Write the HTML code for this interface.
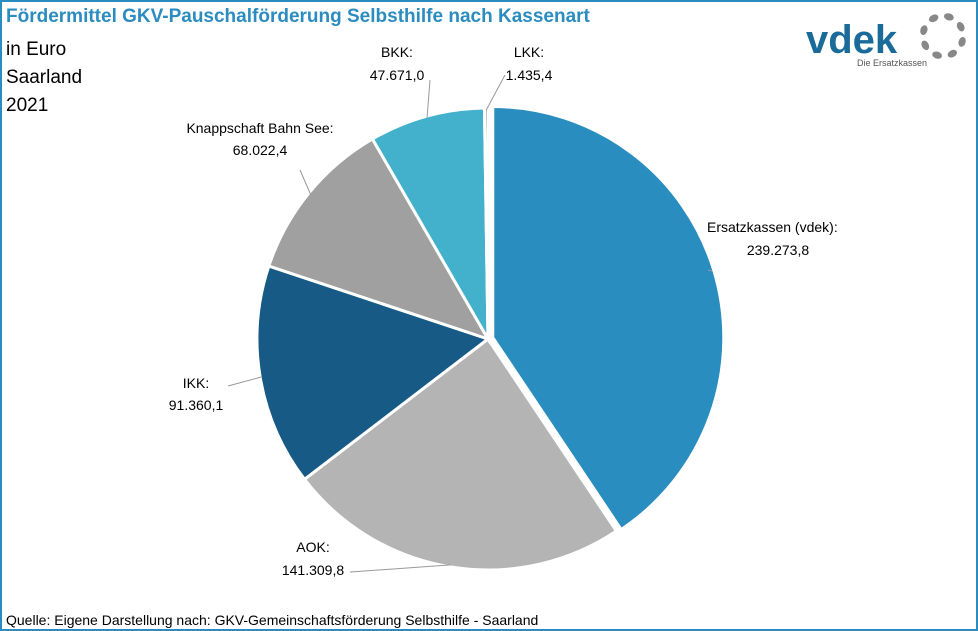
<!DOCTYPE html>
<html><head><meta charset="utf-8"><style>
body{margin:0;width:978px;height:631px;overflow:hidden;background:#fff;font-family:"Liberation Sans",sans-serif}
#frame{position:absolute;left:0;top:0;width:974px;height:627px;border:2px solid #2b8cc0}
svg text{font-family:"Liberation Sans",sans-serif}
</style></head><body>
<div id="frame"></div>
<svg id="chart" width="978" height="631" style="position:absolute;left:0;top:0">
<text x="6" y="22" font-size="19" font-weight="bold" fill="#2b8cc0">Fördermittel GKV-Pauschalförderung Selbsthilfe nach Kassenart</text>
<text x="6" y="55" font-size="19" fill="#000">in Euro</text>
<text x="6" y="83" font-size="19" fill="#000">Saarland</text>
<text x="6" y="111" font-size="19" fill="#000">2021</text>
<text x="6" y="625" font-size="14" fill="#000">Quelle: Eigene Darstellung nach: GKV-Gemeinschaftsförderung  Selbsthilfe - Saarland</text>
<g>
<text x="806" y="53" font-size="40" font-weight="bold" fill="#1a6b9a">vdek</text>
<text x="857" y="66" font-size="9" fill="#555">Die Ersatzkassen</text>
<g fill="#888" id="logodots"></g>
</g>
<g id="slices"></g><g id="labels"></g>
</svg>
<script>
const categories=["Ersatzkassen (vdek)","AOK","IKK","Knappschaft Bahn See","BKK","LKK"];
const values=[239273.8,141309.8,91360.1,68022.4,47671.0,1435.4];
const valueLabels=["239.273,8","141.309,8","91.360,1","68.022,4","47.671,0","1.435,4"];
const colors=["#2a8dbf","#b4b4b4","#175a85","#a0a0a0","#43b1cc","#7a7a7a"];
const ns="http://www.w3.org/2000/svg";
const cx=488,cy=339,R=231;
const total=values.reduce((a,b)=>a+b,0);
const pt=(a,r,ox,oy)=>[ox+r*Math.sin(a),oy-r*Math.cos(a)];
const labelPos=[[707,232,"start",778,255],[313,552,"middle",313,575],[196,388,"middle",196,410],[260,133,"middle",260,155],[397,57,"middle",397,80],[529,57,"middle",529,80]];
let a0=0;
const sg=document.getElementById('slices'),lg=document.getElementById('labels');
values.forEach((v,i)=>{
 const sweep=v/total*2*Math.PI,a1=a0+sweep,mid=(a0+a1)/2;
 const off=i===0?5:0;
 const ox=cx+off*Math.sin(mid),oy=cy-off*Math.cos(mid);
 const p0=pt(a0,R,ox,oy),p1=pt(a1,R,ox,oy);
 const p=document.createElementNS(ns,'path');
 p.setAttribute('d',`M${ox},${oy}L${p0[0]},${p0[1]}A${R},${R} 0 ${sweep>Math.PI?1:0} 1 ${p1[0]},${p1[1]}Z`);
 p.setAttribute('fill',colors[i]);p.setAttribute('stroke','#fff');p.setAttribute('stroke-width','3');
 
 
 sg.appendChild(p);
 const lp=labelPos[i];
 const e=pt(mid,R-2,ox,oy);
 const ln=document.createElementNS(ns,'polyline');
 let lx,ly;
 if(i===0){lx=708;ly=270}else if(i===1){lx=350;ly=572}else if(i===2){lx=228;ly=386}else if(i===3){lx=300;ly=170}else if(i===4){lx=430;ly=80}else{lx=505;ly=75}
 ln.setAttribute('points',`${e[0]},${e[1]} ${lx},${ly}`);
 ln.setAttribute('fill','none');ln.setAttribute('stroke','#999');ln.setAttribute('stroke-width','1');
 
 
 lg.appendChild(ln);
 [categories[i]+':',valueLabels[i]].forEach((s,k)=>{
  const t=document.createElementNS(ns,'text');
  t.setAttribute('x',k===0?lp[0]:lp[3]);t.setAttribute('y',k===0?lp[1]:lp[4]);
  t.setAttribute('text-anchor',i===0&&k===0?'start':'middle');
  t.setAttribute('font-size','14');t.setAttribute('fill','#000');t.textContent=s;
  
  
  lg.appendChild(t);
 });
 a0=a1;
});
const ld=document.getElementById('logodots');
for(let k=0;k<8;k++){const a=k*Math.PI/4+0.3;const c=document.createElementNS(ns,'ellipse');
 c.setAttribute('cx',943+20*Math.cos(a));c.setAttribute('cy',36+20*Math.sin(a));c.setAttribute('rx',5);c.setAttribute('ry',3.5);
 c.setAttribute('transform',`rotate(${a*180/Math.PI+90} ${943+20*Math.cos(a)} ${36+20*Math.sin(a)})`);
 
 
 ld.appendChild(c);}
</script>
</body></html>
